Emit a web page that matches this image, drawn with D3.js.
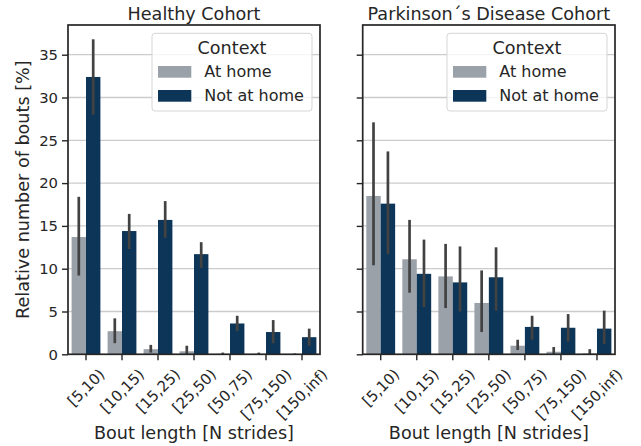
<!DOCTYPE html>
<html>
<head>
<meta charset="utf-8">
<script src="https://cdnjs.cloudflare.com/ajax/libs/d3/7.8.5/d3.min.js"></script>
<style>
  body { margin: 0; background: #fff; }
  text { font-family: "DejaVu Sans", sans-serif; fill: #262626; }
</style>
</head>
<body>
<svg id="chart"></svg>
<script>
const width = 641;
const height = 446;

const categories = ['[5,10)', '[10,15)', '[15,25)', '[25,50)', '[50,75)', '[75,150)', '[150,inf)'];
const contexts = ['At home', 'Not at home'];
const colors = ['#9aa1a9', '#0d3557'];
const yTicks = [0, 5, 10, 15, 20, 25, 30, 35];

// Healthy cohort: mean, ci low, ci high
const healthyHome = [13.7, 2.7, 0.6, 0.35, 0.05, 0.05, 0.03];
const healthyHomeLo = [9.2, 1.3, 0.2, 0.0, 0.0, 0.0, 0.0];
const healthyHomeHi = [18.4, 4.2, 1.1, 1.0, 0.2, 0.2, 0.1];
const healthyAway = [32.4, 14.4, 15.7, 11.7, 3.6, 2.6, 2.0];
const healthyAwayLo = [28.0, 12.3, 13.6, 10.1, 2.7, 1.3, 1.0];
const healthyAwayHi = [36.8, 16.4, 17.9, 13.1, 4.5, 4.0, 3.0];

// Parkinson's disease cohort
const pdHome = [18.5, 11.1, 9.1, 6.0, 1.0, 0.3, 0.1];
const pdHomeLo = [10.4, 7.2, 5.4, 2.6, 0.5, 0.0, 0.0];
const pdHomeHi = [27.1, 15.7, 12.9, 9.8, 1.7, 0.85, 0.6];
const pdAway = [17.6, 9.4, 8.4, 9.0, 3.2, 3.1, 3.0];
const pdAwayLo = [11.7, 5.5, 5.0, 5.1, 1.7, 1.5, 1.2];
const pdAwayHi = [23.7, 13.4, 12.6, 12.5, 4.5, 4.7, 5.1];

const svg = d3.select('#chart')
    .attr('width', width)
    .attr('height', height);

const plotTop = 25, plotBottom = 354.3;

const y = d3.scaleLinear()
    .domain([0, 38.47])
    .range([plotBottom, plotTop]);

function panel(left, right, title, series, showY) {
    const g = svg.append('g');

    const x = d3.scaleBand()
        .domain(categories)
        .range([left, right])
        .padding(0);

    const inner = d3.scaleBand()
        .domain(contexts)
        .range([0, x.bandwidth() * 0.8]);
    const offset = x.bandwidth() * 0.1;

    // grid
    g.selectAll('.grid')
        .data(yTicks)
        .enter().append('line')
        .attr('x1', left).attr('x2', right)
        .attr('y1', d => y(d)).attr('y2', d => y(d))
        .attr('stroke', '#cccccc')
        .attr('stroke-width', 1.3);

    // bars
    series.forEach((s, si) => {
        const rows = categories.map((c, i) => ({ c, v: s.v[i], lo: s.lo[i], hi: s.hi[i] }));
        g.selectAll('.bar' + si)
            .data(rows)
            .enter().append('rect')
            .attr('x', d => x(d.c) + offset + inner(contexts[si]))
            .attr('width', inner.bandwidth())
            .attr('y', d => y(d.v))
            .attr('height', d => y(0) - y(d.v))
            .attr('fill', colors[si]);
        g.selectAll('.err' + si)
            .data(rows)
            .enter().append('line')
            .attr('x1', d => x(d.c) + offset + inner(contexts[si]) + inner.bandwidth() / 2)
            .attr('x2', d => x(d.c) + offset + inner(contexts[si]) + inner.bandwidth() / 2)
            .attr('y1', d => y(d.lo))
            .attr('y2', d => y(d.hi))
            .attr('stroke', '#424242')
            .attr('stroke-width', 2.7);
    });

    // y axis
    const yAxis = g.append('g')
        .attr('transform', `translate(${left},0)`)
        .call(d3.axisLeft(y).tickValues(yTicks).tickSize(6).tickPadding(4)
            .tickFormat(showY ? d3.format('d') : ''));
    yAxis.select('.domain').remove();
    yAxis.selectAll('.tick line').attr('stroke', '#262626').attr('stroke-width', 1.4);
    yAxis.selectAll('text').style('font-size', '14.8px').attr('fill', '#262626');

    // x axis
    const xAxis = g.append('g')
        .attr('transform', `translate(0,${plotBottom})`)
        .call(d3.axisBottom(x).tickSize(6).tickFormat(''));
    xAxis.select('.domain').remove();
    xAxis.selectAll('.tick line').attr('stroke', '#262626').attr('stroke-width', 1.4);

    // rotated tick labels, bounding box centred on tick
    categories.forEach(c => {
        const t = g.append('text')
            .style('font-size', '15px')
            .attr('text-anchor', 'middle')
            .attr('dy', '0.35em')
            .text(c);
        const w = t.node().getComputedTextLength();
        const h = 15;
        const cy = plotBottom + 12 + (w + h) / (2 * Math.SQRT2);
        const cx = x(c) + x.bandwidth() / 2;
        t.attr('transform', `translate(${cx},${cy}) rotate(-45)`);
    });

    // frame
    g.append('rect')
        .attr('x', left).attr('y', plotTop)
        .attr('width', right - left).attr('height', plotBottom - plotTop)
        .attr('fill', 'none')
        .attr('stroke', '#262626')
        .attr('stroke-width', 1.7);

    // title
    g.append('text')
        .attr('x', (left + right) / 2)
        .attr('y', 20)
        .attr('text-anchor', 'middle')
        .style('font-size', '17.6px')
        .text(title);

    // x label
    g.append('text')
        .attr('x', (left + right) / 2)
        .attr('y', 439)
        .attr('text-anchor', 'middle')
        .style('font-size', '17.6px')
        .text('Bout length [N strides]');

    // legend
    const lx = right - 168;
    const legend = g.append('g').attr('transform', `translate(${lx},33.3)`);
    legend.append('rect')
        .attr('width', 160).attr('height', 77.7)
        .attr('rx', 3)
        .attr('fill', 'rgba(255,255,255,0.8)')
        .attr('stroke', '#d5d5d5')
        .attr('stroke-width', 1);
    legend.append('text')
        .attr('x', 80).attr('y', 21)
        .attr('text-anchor', 'middle')
        .style('font-size', '17.6px')
        .text('Context');
    contexts.forEach((c, i) => {
        legend.append('rect')
            .attr('x', 6).attr('y', 32.7 + i * 24)
            .attr('width', 33.3).attr('height', 11.7)
            .attr('fill', colors[i]);
        legend.append('text')
            .attr('x', 52.3).attr('y', 44 + i * 24)
            .style('font-size', '16px')
            .text(c);
    });
}

panel(68, 320, 'Healthy Cohort', [
    { v: healthyHome, lo: healthyHomeLo, hi: healthyHomeHi },
    { v: healthyAway, lo: healthyAwayLo, hi: healthyAwayHi }
], true);

panel(362.7, 615, 'Parkinson\u00b4s Disease Cohort', [
    { v: pdHome, lo: pdHomeLo, hi: pdHomeHi },
    { v: pdAway, lo: pdAwayLo, hi: pdAwayHi }
], false);

// y label
svg.append('text')
    .attr('transform', `translate(29,${(plotTop + plotBottom) / 2}) rotate(-90)`)
    .attr('text-anchor', 'middle')
    .style('font-size', '17.6px')
    .text('Relative number of bouts [%]');
</script>
</body>
</html>
